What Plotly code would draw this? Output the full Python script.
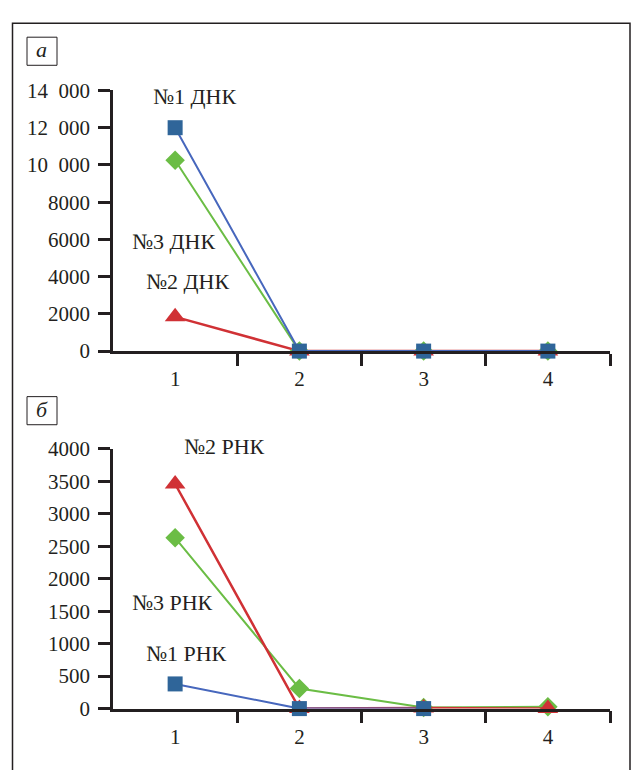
import plotly.graph_objects as go

W, H = 632, 770

x_pos = [1, 2, 3, 4]
x_labels = ["1", "2", "3", "4"]

# Panel а (DNA)
dna1 = [12000, 0, 0, 0]      # №1 ДНК, blue squares
dna2 = [1840, 0, 0, 0]       # №2 ДНК, red triangles
dna3 = [10250, 0, 0, 0]      # №3 ДНК, green diamonds

# Panel б (RNA)
rna1 = [380, 0, 0]           # №1 РНК, blue squares (points 1-3)
rna2 = [3460, 0, 10, 0]      # №2 РНК, red triangles
rna3 = [2630, 310, 15, 30]   # №3 РНК, green diamonds

ya_ticks = [0, 2000, 4000, 6000, 8000, 10000, 12000, 14000]
ya_text = ["0", "2000", "4000", "6000", "8000", "10  000", "12  000", "14  000"]
yb_ticks = [0, 500, 1000, 1500, 2000, 2500, 3000, 3500, 4000]
yb_text = [str(v) for v in yb_ticks]

BLUE_M = "#2f6599"
BLUE_L = "#4767bd"
GREEN = "#6bbd45"
RED = "#d03135"
INK = "#231f20"
FONT = "Liberation Serif"


def px_x(p):
    return p / W


def px_y(p):
    return 1 - p / H


fig = go.Figure()


def add(x, y, color_l, color_m, symbol, size, xa, ya, lw=2):
    fig.add_trace(go.Scatter(
        x=x, y=y, mode="lines+markers", xaxis=xa, yaxis=ya,
        line=dict(color=color_l, width=lw),
        marker=dict(symbol=symbol, size=size, color=color_m, line=dict(width=0)),
        cliponaxis=False, showlegend=False, hoverinfo="skip"))


# Panel а
add(x_pos, dna2, RED, RED, "triangle-up", 18, "x", "y", 2.5)
add(x_pos, dna3, GREEN, GREEN, "diamond", 15, "x", "y")
add(x_pos, dna1, BLUE_L, BLUE_M, "square", 15, "x", "y")
# Panel б
add(x_pos, rna3, GREEN, GREEN, "diamond", 15, "x2", "y2")
add(x_pos, rna2, RED, RED, "triangle-up", 18, "x2", "y2", 2.5)
add(x_pos[:3], rna1, BLUE_L, BLUE_M, "square", 15, "x2", "y2")

x_dom = [px_x(113), px_x(610)]

xaxis_common = dict(
    range=[0.5, 4.5], domain=x_dom, showgrid=False, zeroline=False,
    showline=True, linecolor=INK, linewidth=2.5,
    tickmode="array", tickvals=x_pos, ticktext=x_labels,
    ticks="outside", ticklen=0, tickwidth=0,
    minor=dict(tickmode="array", tickvals=[1.5, 2.5, 3.5, 4.5],
               ticks="outside", ticklen=12, tickwidth=2.5, tickcolor=INK),
    tickfont=dict(family=FONT, size=21, color=INK),
    ticklabelstandoff=7, fixedrange=True)

yaxis_common = dict(
    showgrid=False, zeroline=False, showline=True, linecolor=INK, linewidth=2.5,
    ticks="outside", ticklen=12, tickwidth=2.5, tickcolor=INK,
    tickfont=dict(family=FONT, size=21, color=INK),
    ticklabelstandoff=4, tickmode="array", fixedrange=True)

fig.update_layout(
    width=W, height=H,
    margin=dict(l=0, r=0, t=0, b=0),
    paper_bgcolor="white", plot_bgcolor="rgba(0,0,0,0)",
    font=dict(family=FONT),
    xaxis=dict(anchor="y", **xaxis_common),
    yaxis=dict(anchor="x", range=[0, 14000],
               domain=[px_y(350), px_y(81)],
               tickvals=ya_ticks, ticktext=ya_text, **yaxis_common),
    xaxis2=dict(anchor="y2", **xaxis_common),
    yaxis2=dict(anchor="x2", range=[0, 4000],
                domain=[px_y(719), px_y(451)],
                tickvals=yb_ticks, ticktext=yb_text, **yaxis_common),
)

shapes = [
    dict(type="rect", xref="paper", yref="paper",
         x0=px_x(12.5), x1=px_x(630), y0=px_y(800), y1=px_y(11.5),
         line=dict(color=INK, width=1.5), fillcolor="rgba(0,0,0,0)", layer="below"),
    dict(type="rect", xref="paper", yref="paper",
         x0=px_x(27), x1=px_x(57), y0=px_y(55), y1=px_y(26),
         line=dict(color=INK, width=1), fillcolor="rgba(0,0,0,0)"),
    dict(type="rect", xref="paper", yref="paper",
         x0=px_x(27), x1=px_x(57), y0=px_y(426), y1=px_y(397),
         line=dict(color=INK, width=1), fillcolor="rgba(0,0,0,0)"),
]
fig.update_layout(shapes=shapes)

labels = [
    ("<i>а</i>", 42, 39, 22),
    ("<i>б</i>", 42, 410, 22),
    ("№1 ДНК", 194, 87, 22),
    ("№3 ДНК", 173, 237, 22),
    ("№2 ДНК", 187, 278, 22),
    ("№2 РНК", 224, 448, 22),
    ("№3 РНК", 172, 609, 22),
    ("№1 РНК", 186, 662, 22),
]
for txt, x, y, s in labels:
    fig.add_annotation(text=txt, xref="paper", yref="paper",
                       x=px_x(x), y=px_y(y), xanchor="center", yanchor="middle",
                       showarrow=False, font=dict(family=FONT, size=s, color=INK))

fig.write_html(
    "out.html",
    config={"displayModeBar": False},
    post_script=("document.body.style.margin='0';"
                 "document.body.style.overflow='hidden';"))
